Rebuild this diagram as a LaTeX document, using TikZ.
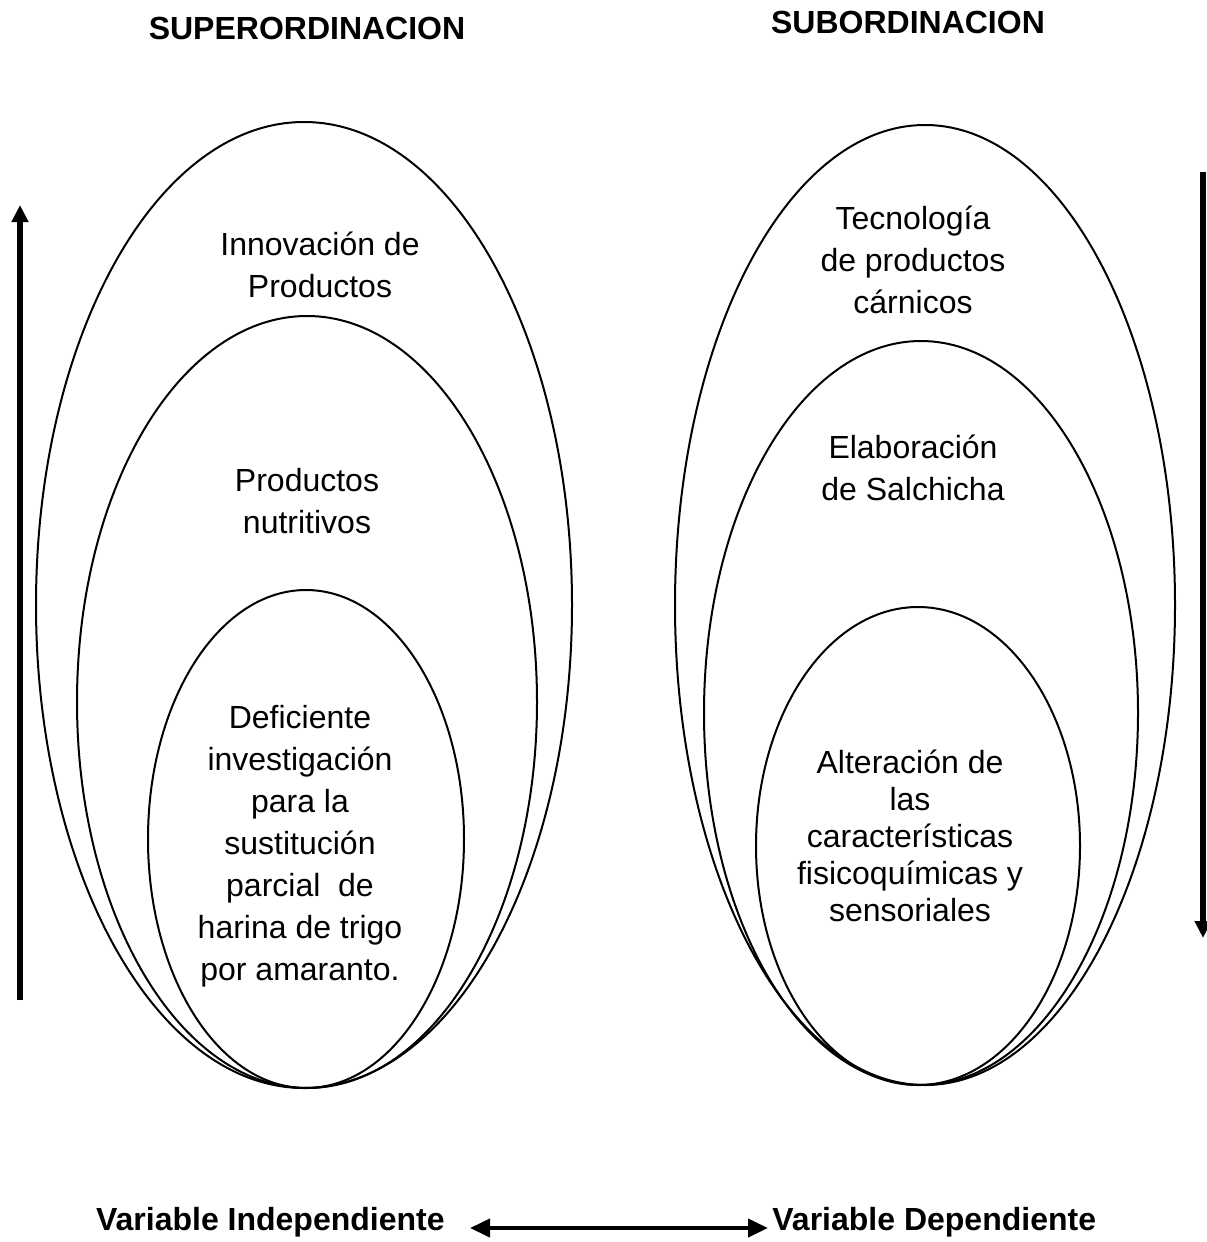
\documentclass[tikz,border=0pt]{standalone}
\usepackage{fontspec}
\setmainfont{Liberation Sans}
\usetikzlibrary{arrows.meta,positioning}

\begin{document}
\begin{tikzpicture}[
  x=0.5pt,y=-0.5pt,
  ring/.style={draw,line width=1pt},
  lbl/.style={align=center,font=\fontsize{16}{21}\selectfont},
  head/.style={font=\fontsize{16}{19}\selectfont\bfseries},
  rank/.style={line width=3pt,-{Triangle[length=8.5pt,width=8pt]}},
  link/.style={line width=2pt,{Triangle[length=10pt,width=9pt]}-{Triangle[length=10pt,width=9pt]}},
]
\useasboundingbox (0,0) rectangle (1206,1242);

% titles
\node[head] (sup) at (307,28) {SUPERORDINACION};
\node[head] (sub) at (908,22) {SUBORDINACION};

% independent variable, nested
\draw[ring] (304,605) ellipse [x radius=268,y radius=483];
\draw[ring] (307,702) ellipse [x radius=230,y radius=386];
\draw[ring] (306,839) ellipse [x radius=158,y radius=249];
\node[lbl] (inno) at (320,265) {Innovación de\\Productos};
\node[lbl] (nutri) at (307,501) {Productos\\nutritivos};
\node[lbl] (defi) at (300,846) {Deficiente\\investigación\\para la\\sustitución\\parcial\ \ de\\harina de trigo\\por amaranto.};

% dependent variable, nested
\draw[ring] (925,605) ellipse [x radius=250,y radius=480];
\draw[ring] (921,713) ellipse [x radius=217,y radius=372];
\draw[ring] (918,846) ellipse [x radius=162,y radius=239];
\node[lbl] (tecno) at (913,260) {Tecnología\\de productos\\cárnicos};
\node[lbl] (elab) at (913,468) {Elaboración\\de Salchicha};
\node[lbl,font=\fontsize{16}{18.5}\selectfont] (alter) at (910,836)
  {Alteración de\\las\\características\\fisicoquímicas y\\sensoriales};

% side arrows
\coordinate (upFoot) at (20,1000);
\coordinate (upTip) at (20,205);
\draw[rank] (upFoot) -- (upTip);
\coordinate (downTop) at (1203,172);
\coordinate (downTip) at (1203,938);
\draw[rank] (downTop) -- (downTip);

% bottom
\node[head,anchor=east,inner sep=0pt] (vi) at (445,1222) {Variable Independiente};
\node[head,anchor=west,inner sep=0pt] (vd) at (772,1222) {Variable Dependiente};
\coordinate (linkL) at (470,1228);
\coordinate (linkR) at (768,1228);
\draw[link] (linkL) -- (linkR);
\end{tikzpicture}
\end{document}
